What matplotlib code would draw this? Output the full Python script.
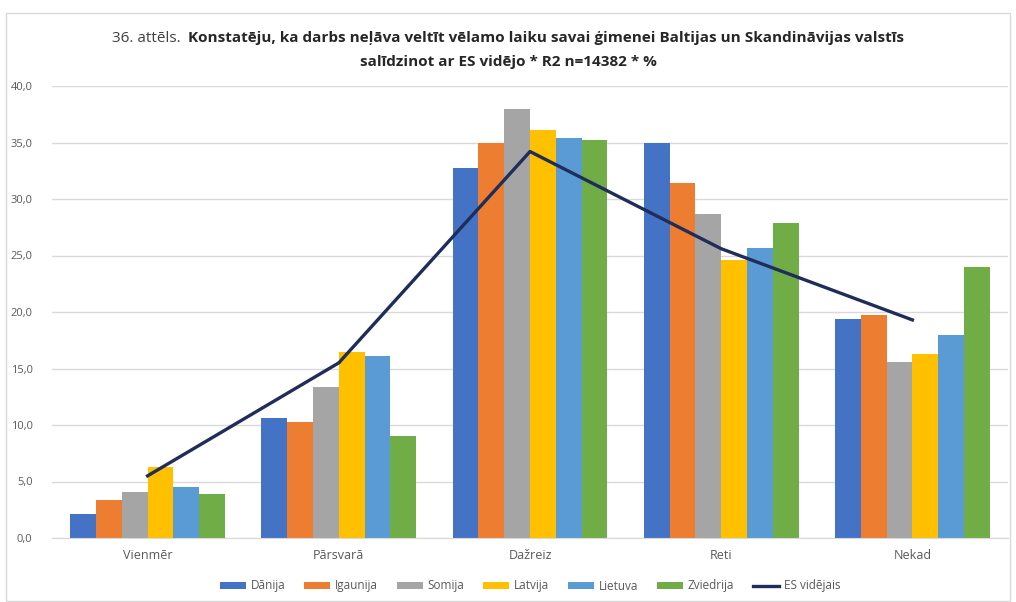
import numpy as np
import matplotlib
matplotlib.use('Agg')
import matplotlib.pyplot as plt
from matplotlib.patches import Rectangle

plt.rcParams['font.family'] = ['Open Sans', 'DejaVu Sans']

# dati
categories = ['Vienmēr', 'Pārsvarā', 'Dažreiz', 'Reti', 'Nekad']
danija = [2.1, 10.6, 32.7, 35.0, 19.4]
igaunija = [3.4, 10.3, 35.0, 31.4, 19.7]
somija = [4.1, 13.4, 38.0, 28.7, 15.6]
latvija = [6.3, 16.5, 36.1, 24.6, 16.3]
lietuva = [4.5, 16.1, 35.4, 25.7, 18.0]
zviedrija = [3.9, 9.0, 35.2, 27.9, 24.0]
es_videjais = [5.5, 15.5, 34.2, 25.6, 19.3]

series_names = ['Dānija', 'Igaunija', 'Somija', 'Latvija', 'Lietuva', 'Zviedrija']
series_vals = [danija, igaunija, somija, latvija, lietuva, zviedrija]
colors = ['#4472C4', '#ED7D31', '#A5A5A5', '#FFC000', '#5B9BD5', '#70AD47']

fig = plt.figure(figsize=(10.16, 6.02), dpi=100)
ax = fig.add_axes([52/1016, 1-538/602, (1008-52)/1016, (538-86)/602])

x = np.arange(len(categories))
w = 0.135
handles = []
for i, (name, vals) in enumerate(zip(series_names, series_vals)):
    b = ax.bar(x + (i - 2.5)*w, vals, w, color=colors[i], label=name, zorder=2)
    handles.append(b)
ln, = ax.plot(x, es_videjais, color='#1F2D5A', lw=2.4, label='ES vidējais', zorder=3)
handles.append(ln)

ax.set_xlim(-0.5, 4.5)
ax.set_ylim(0, 40)
ax.set_yticks(np.arange(0, 41, 5))
ax.set_yticklabels([('%.1f' % v).replace('.', ',') for v in np.arange(0, 41, 5)],
                   fontsize=8, color='#595959')
ax.set_xticks(x)
ax.set_xticklabels(categories, fontsize=9, color='#595959')
ax.tick_params(length=0, pad=8)
ax.tick_params(axis='y', pad=14)
ax.grid(axis='y', color='#D9D9D9', lw=1, zorder=0)
for s in ['top', 'right', 'left']:
    ax.spines[s].set_visible(False)
ax.spines['bottom'].set_color('#D9D9D9')

leg = ax.legend(handles=handles, loc='center', bbox_to_anchor=(0.5, -48/452), ncol=7,
                frameon=False, fontsize=8.5, handlelength=2.2, handleheight=0.5,
                columnspacing=1.6, handletextpad=0.4)
for t in leg.get_texts():
    t.set_color('#595959')

# rāmis
fig.patches.append(Rectangle((6/1016, 0.002), 1004/1016, 1-14/602,
                             transform=fig.transFigure, fill=False,
                             edgecolor='#D9D9D9', lw=1))

# virsraksts
t1 = fig.text(0.5, 1-38/602, '36. attēls.  ', fontsize=11, color='#404040',
              ha='left', va='center')
t2 = fig.text(0.5, 1-38/602,
              'Konstatēju, ka darbs neļāva veltīt vēlamo laiku savai ģimenei Baltijas un Skandināvijas valstīs',
              fontsize=11, fontweight='bold', color='#262626', ha='left', va='center')
fig.canvas.draw()
r = fig.canvas.get_renderer()
w1 = t1.get_window_extent(r).width
w2 = t2.get_window_extent(r).width
x0 = (1016 - w1 - w2) / 2
t1.set_x(x0/1016)
t2.set_x((x0 + w1)/1016)
fig.text(0.5, 1-62/602, 'salīdzinot ar ES vidējo * R2 n=14382 * %', fontsize=11,
         fontweight='bold', color='#262626', ha='center', va='center')

fig.savefig('out.png', dpi=100)
